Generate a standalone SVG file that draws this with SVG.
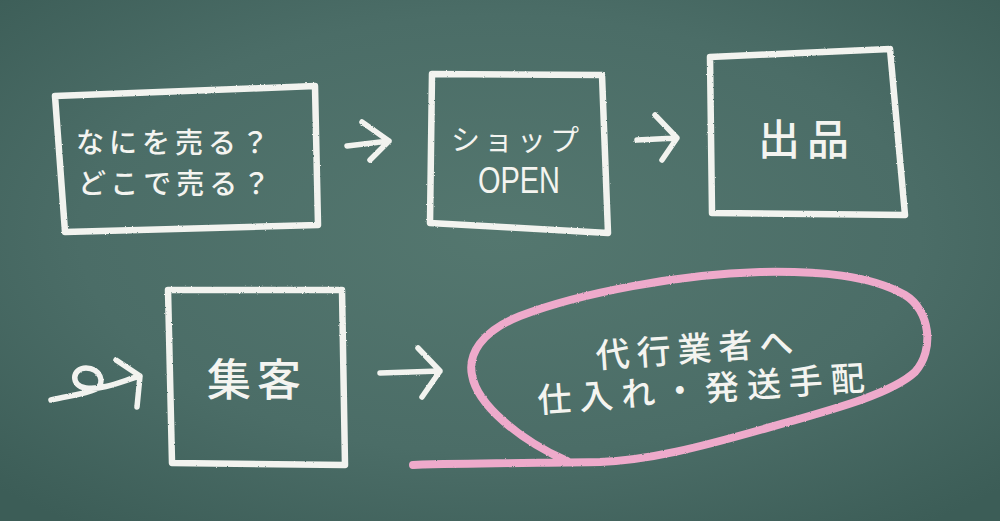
<svg xmlns="http://www.w3.org/2000/svg" width="1000" height="521" viewBox="0 0 1000 521">
  <defs>
    <radialGradient id="board" cx="50%" cy="45%" r="70%">
      <stop offset="0" stop-color="#54776f"/>
      <stop offset="0.6" stop-color="#4b6d67"/>
      <stop offset="1" stop-color="#3c5d57"/>
    </radialGradient>
    <filter id="chalk" x="-5%" y="-5%" width="110%" height="110%">
      <feTurbulence type="fractalNoise" baseFrequency="0.9" numOctaves="2" seed="3" result="n"/>
      <feDisplacementMap in="SourceGraphic" in2="n" scale="2" xChannelSelector="R" yChannelSelector="G"/>
    </filter>
    <style>
      .box { fill: none; stroke: #f2f3ef; stroke-width: 6.5; stroke-linejoin: round; stroke-linecap: round; }
      .arr { fill: none; stroke: #f2f3ef; stroke-width: 5.5; stroke-linejoin: round; stroke-linecap: round; }
      .pink { fill: none; stroke: #eeaacb; stroke-width: 8; stroke-linejoin: round; stroke-linecap: round; }
      .jp { font-family: "Noto Sans CJK JP", "Noto Sans", sans-serif; fill: #f4f4f0; }
      .en { font-family: "Liberation Sans", "DejaVu Sans", sans-serif; fill: #f4f4f0; }
    </style>
  </defs>
  <rect width="1000" height="521" fill="url(#board)"/>

  <g id="connectors" filter="url(#chalk)">
    <path class="arr" d="M347,146 L389,141 M362,122 L389,141 L370,160"/>
    <path class="arr" d="M637,140 L677,138 M655,115 L677,138 L662,160"/>
    <path class="arr" d="M51,400 C68,396 86,394 96,389 C106,383 100,368 86,368 C72,368 70,386 86,388 C104,390 122,381 140,376 M116,360 L140,376 L137,407"/>
    <path class="arr" d="M380,373 L440,371 M418,348 L440,371 L422,397"/>
  </g>

  <g id="node-nani">
    <path class="box" filter="url(#chalk)" d="M55,96 L315,86 L318,225 L65,232 Z"/>
    <text class="jp" x="76" y="153" font-size="28" font-weight="500" letter-spacing="5">なにを売る？</text>
    <text class="jp" x="78" y="194" font-size="28" font-weight="500" letter-spacing="5">どこで売る？</text>
  </g>

  <g id="node-shop">
    <path class="box" filter="url(#chalk)" d="M432,74 L602,75 L608,233 L430,223 Z"/>
    <text class="jp" x="517" y="151" font-size="29" font-weight="400" letter-spacing="4" text-anchor="middle">ショップ</text>
    <text class="en" x="478" y="193" font-size="37" font-weight="400" textLength="82" lengthAdjust="spacingAndGlyphs">OPEN</text>
  </g>

  <g id="node-shuppin">
    <path class="box" filter="url(#chalk)" d="M710,57 L890,49 L905,215 L712,213 Z"/>
    <text class="jp" x="807" y="155" font-size="42" font-weight="500" letter-spacing="7" text-anchor="middle">出品</text>
  </g>

  <g id="node-shukyaku">
    <path class="box" filter="url(#chalk)" d="M168,290 L342,290 L345,465 L172,463 Z"/>
    <text class="jp" x="257" y="396" font-size="44" font-weight="500" letter-spacing="6" text-anchor="middle">集客</text>
  </g>

  <g id="node-daiko">
    <path class="pink" filter="url(#chalk)" d="M413,465 C480,463 540,463 600,462 C650,460 700,447 760,430 C830,410 890,395 915,372 C935,350 930,310 905,295 C870,275 820,271 760,272 C680,274 580,293 520,316 C480,332 468,355 472,375 C477,405 520,440 567,461"/>
    <text class="jp" x="698" y="361" font-size="34" font-weight="500" letter-spacing="7" text-anchor="middle" transform="rotate(-4 698 350)">代行業者へ</text>
    <text class="jp" x="705" y="401" font-size="34" font-weight="500" letter-spacing="8" text-anchor="middle" transform="rotate(-4 705 390)">仕入れ・発送手配</text>
  </g>
</svg>
